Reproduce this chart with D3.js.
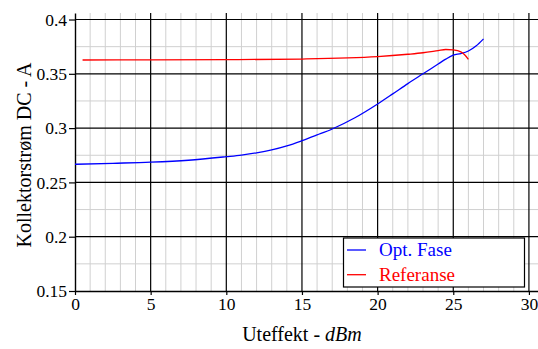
<!DOCTYPE html>
<html>
<head>
<meta charset="utf-8">
<script src="https://cdn.jsdelivr.net/npm/d3@7"></script>
<style>
  body { margin: 0; background: #fff; }
  svg { display: block; font-family: "Liberation Serif", serif; }
</style>
</head>
<body>
<script>
// Opt. Fase (blue)
var faseX = [0, 2.5, 5, 7.5, 10, 11, 12, 13, 14, 15, 16, 17, 18.5, 20, 21, 22, 23, 24, 24.5, 25, 25.5, 26, 26.5, 27];
var faseY = [0.2667, 0.2676, 0.2686, 0.2704, 0.2737, 0.2752, 0.2772, 0.2799, 0.2836, 0.2884, 0.2937, 0.2992, 0.3095, 0.3222, 0.3315, 0.3410, 0.3500, 0.3590, 0.3635, 0.3672, 0.3686, 0.3710, 0.3756, 0.3822];
// Referanse (red)
var refX = [0.5, 5, 10, 15, 20, 22, 23, 24, 24.5, 25, 25.5, 25.75, 26];
var refY = [0.3627, 0.3628, 0.3630, 0.3636, 0.3658, 0.3680, 0.3694, 0.3714, 0.3724, 0.3720, 0.3702, 0.3675, 0.3633];

var xTicks = [0, 5, 10, 15, 20, 25, 30];
var yTicks = [0.15, 0.2, 0.25, 0.3, 0.35, 0.4];
var yTickLabels = ["0.15", "0.2", "0.25", "0.3", "0.35", "0.4"];

var seriesNames = ["Opt. Fase", "Referanse"];
var seriesColors = ["#0000ff", "#ff0000"];

var W = 538, H = 349;
var margin = { left: 75, right: 538, top: 13, bottom: 291 };

var svg = d3.select("body").append("svg")
    .attr("width", W)
    .attr("height", H);

var x = d3.scaleLinear().domain([0, 30.6]).range([margin.left, margin.right]);
var y = d3.scaleLinear().domain([0.15, 0.406]).range([margin.bottom, margin.top]);

// minor grid
var minorX = d3.range(1, 31).filter(function(d) { return d % 5 != 0; });
var minorY = d3.range(0.175, 0.4, 0.05);

svg.append("g").selectAll("line").data(minorX).enter().append("line")
    .attr("x1", function(d) { return x(d); }).attr("x2", function(d) { return x(d); })
    .attr("y1", margin.top).attr("y2", margin.bottom)
    .attr("stroke", "#d0d0d0").attr("stroke-width", 1);

svg.append("g").selectAll("line").data(minorY).enter().append("line")
    .attr("x1", margin.left).attr("x2", margin.right)
    .attr("y1", function(d) { return y(d); }).attr("y2", function(d) { return y(d); })
    .attr("stroke", "#d0d0d0").attr("stroke-width", 1);

// major grid
svg.append("g").selectAll("line").data(xTicks.slice(1)).enter().append("line")
    .attr("x1", function(d) { return x(d); }).attr("x2", function(d) { return x(d); })
    .attr("y1", margin.top).attr("y2", margin.bottom)
    .attr("stroke", "#000").attr("stroke-width", 1.2);

svg.append("g").selectAll("line").data(yTicks.slice(1)).enter().append("line")
    .attr("x1", margin.left).attr("x2", margin.right)
    .attr("y1", function(d) { return y(d); }).attr("y2", function(d) { return y(d); })
    .attr("stroke", "#000").attr("stroke-width", 1.2);

// axes
var xAxis = d3.axisBottom(x).tickValues(xTicks).tickSize(4).tickSizeOuter(0)
    .tickFormat(d3.format("d"));
var gx = svg.append("g")
    .attr("transform", "translate(0," + margin.bottom + ")")
    .call(xAxis);

var yAxis = d3.axisLeft(y).tickValues(yTicks).tickSize(6).tickSizeOuter(0)
    .tickFormat(function(d, i) { return yTickLabels[i]; });
var gy = svg.append("g")
    .attr("transform", "translate(" + margin.left + ",0)")
    .call(yAxis);

[gx, gy].forEach(function(g) {
    g.select(".domain").attr("stroke", "#000").attr("stroke-width", 1.4);
    g.selectAll(".tick line").attr("stroke", "#000").attr("stroke-width", 1.2);
    g.selectAll(".tick text")
        .attr("fill", "#000")
        .style("font-family", "'Liberation Serif', serif")
        .style("font-size", "17.5px");
});
gx.selectAll(".tick text").attr("y", 7).attr("dy", "0.71em");
gy.selectAll(".tick text").attr("x", -8);

// curves
var line = d3.line()
    .x(function(d) { return x(d[0]); })
    .y(function(d) { return y(d[1]); })
    .curve(d3.curveMonotoneX);

var series = [d3.zip(faseX, faseY), d3.zip(refX, refY)];

svg.append("g").selectAll("path").data(series).enter().append("path")
    .attr("d", line)
    .attr("fill", "none")
    .attr("stroke", function(d, i) { return seriesColors[i]; })
    .attr("stroke-width", 1.3);

// axis titles
svg.append("text")
    .attr("x", (margin.left + x(30)) / 2)
    .attr("y", 341)
    .attr("text-anchor", "middle")
    .style("font-size", "20px")
    .text("Uteffekt - ")
    .append("tspan")
    .style("font-style", "italic")
    .text("dBm");

svg.append("text")
    .attr("transform", "translate(31,155) rotate(-90)")
    .attr("text-anchor", "middle")
    .style("font-size", "20px")
    .text("Kollektorstrøm DC - A");

// legend
var legend = svg.append("g");
legend.append("rect")
    .attr("x", 343.5).attr("y", 238)
    .attr("width", 181).attr("height", 49)
    .attr("fill", "#fff")
    .attr("stroke", "#000").attr("stroke-width", 1.2);

var items = legend.selectAll("g.item").data(seriesNames).enter().append("g")
    .attr("class", "item")
    .attr("transform", function(d, i) { return "translate(0," + (250 + i * 24.7) + ")"; });

items.append("line")
    .attr("x1", 347).attr("x2", 366)
    .attr("y1", 0).attr("y2", 0)
    .attr("stroke", function(d, i) { return seriesColors[i]; })
    .attr("stroke-width", 1.3);

items.append("text")
    .attr("x", 379).attr("y", 6)
    .attr("fill", function(d, i) { return seriesColors[i]; })
    .style("font-size", "19px")
    .text(function(d) { return d; });
</script>
</body>
</html>
